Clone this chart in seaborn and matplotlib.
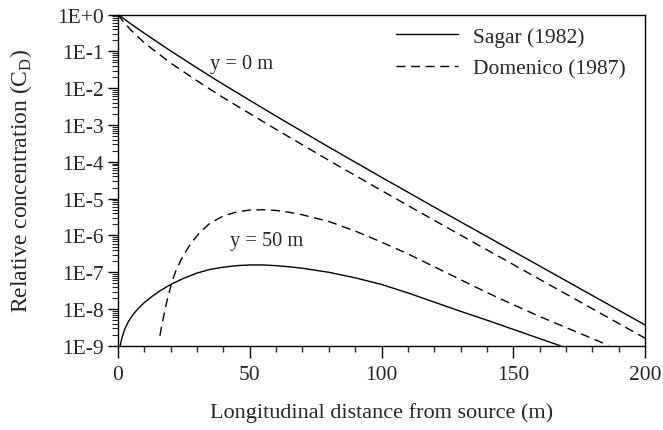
import numpy as np
import pandas as pd
import seaborn as sns
import matplotlib.pyplot as plt
from matplotlib.lines import Line2D
from matplotlib.ticker import LogLocator, FuncFormatter, MultipleLocator, NullFormatter

# values: distance (m) and log10 of relative concentration C_D
sagar_y0_x = [0, 5, 10, 20, 30, 40, 50, 60, 70, 80, 100, 120, 140, 160, 180, 200]
sagar_y0_log = [0, -0.26, -0.51, -0.99, -1.45, -1.90, -2.33, -2.76, -3.18, -3.60,
                -4.42, -5.23, -6.03, -6.83, -7.63, -8.43]

domenico_y0_x = [0, 2, 5, 10, 20, 30, 40, 50, 60, 70, 80, 100, 120, 140, 160, 180, 200]
domenico_y0_log = [0, -0.20, -0.43, -0.77, -1.32, -1.80, -2.26, -2.69, -3.12, -3.54, -3.96,
                   -4.78, -5.59, -6.39, -7.19, -7.99, -8.79]

sagar_y50_x = [0.8, 1.5, 2.5, 4, 6, 8, 10, 13, 16, 20, 25, 30, 35, 40, 45, 50, 55, 60, 65, 70,
               80, 90, 100, 110, 120, 130, 140, 150, 160, 168]
sagar_y50_log = [-9.0, -8.78, -8.55, -8.33, -8.12, -7.96, -7.82, -7.65, -7.50, -7.33, -7.16, -7.02,
                 -6.92, -6.86, -6.82, -6.80, -6.80, -6.82, -6.85, -6.89, -7.00, -7.15, -7.33, -7.56,
                 -7.81, -8.06, -8.30, -8.55, -8.80, -9.0]

domenico_y50_x = [15.9, 17, 18.5, 20.4, 22, 24, 26, 28, 31, 35, 40, 45, 50, 55, 60, 65, 70, 80,
                  90, 100, 110, 120, 130, 140, 150, 160, 170, 180, 186]
domenico_y50_log = [-8.72, -8.30, -7.80, -7.27, -6.95, -6.65, -6.40, -6.18, -5.92, -5.66, -5.47,
                    -5.36, -5.31, -5.30, -5.32, -5.37, -5.44, -5.62, -5.88, -6.18, -6.50, -6.85,
                    -7.20, -7.55, -7.88, -8.20, -8.50, -8.80, -8.98]

models = ["Sagar (1982)", "Domenico (1987)"]


def make_frame():
    parts = []
    for model, offset, xs, logs in [
        (models[0], "y0", sagar_y0_x, sagar_y0_log),
        (models[1], "y0", domenico_y0_x, domenico_y0_log),
        (models[0], "y50", sagar_y50_x, sagar_y50_log),
        (models[1], "y50", domenico_y50_x, domenico_y50_log),
    ]:
        parts.append(pd.DataFrame({"x": xs, "c": 10.0 ** np.array(logs),
                                   "model": model, "curve": model + offset}))
    return pd.concat(parts, ignore_index=True)


sns.set_style("ticks")
plt.rcParams["font.family"] = ["Liberation Serif", "DejaVu Serif"]
plt.rcParams["mathtext.fontset"] = "custom"
plt.rcParams["mathtext.rm"] = "Liberation Serif"

df = make_frame()
dash = (6.5, 4)
dash_styles = {models[0]: "", models[1]: dash}

fig = plt.figure(figsize=(6.63, 4.31), dpi=100)
ax = fig.add_axes([0.178, 0.195, 0.795, 0.769])

sns.lineplot(data=df, x="x", y="c", style="model", units="curve", estimator=None,
             dashes=dash_styles, color="black", linewidth=1.0, legend=False, ax=ax)

ax.set_yscale("log")
ax.set_xlim(0, 200)
ax.set_ylim(1e-9, 1)

ax.xaxis.set_major_locator(MultipleLocator(50))
ax.xaxis.set_minor_locator(MultipleLocator(10))
ax.yaxis.set_major_locator(LogLocator(base=10, numticks=20))
ax.yaxis.set_minor_locator(LogLocator(base=10, subs=np.arange(2, 10), numticks=20))
ax.yaxis.set_minor_formatter(NullFormatter())
ax.yaxis.set_major_formatter(FuncFormatter(lambda v, p: "1E+0" if v >= 1 else "1E-%d" % round(-np.log10(v))))

ax.tick_params(axis="both", which="major", direction="out", length=7, width=1, labelsize=15.5, color="black")
ax.tick_params(axis="x", which="minor", direction="out", length=4, width=1)
ax.tick_params(axis="y", which="minor", direction="out", length=4, width=0.8)
ax.tick_params(axis="x", which="major", length=8.5, pad=5)
for side in ax.spines.values():
    side.set_linewidth(1)
    side.set_color("black")

ax.set_xlabel("Longitudinal distance from source (m)", fontsize=16, labelpad=13)
ax.set_ylabel("Relative concentration (C$_\\mathrm{D}$)", fontsize=17, labelpad=16)

ax.text(47, 10 ** -1.34, "y = 0 m", fontsize=14.7, ha="center", va="center")
ax.text(56.4, 10 ** -6.15, "y = 50 m", fontsize=14.7, ha="center", va="center")

handles = [Line2D([], [], color="black", lw=1.0, label=models[0]),
           Line2D([], [], color="black", lw=1.0, dashes=dash, label=models[1])]
ax.legend(handles=handles, loc="upper right", bbox_to_anchor=(0.983, 0.995), frameon=False,
          fontsize=15.5, handlelength=2.85, handletextpad=0.7, borderaxespad=0.1, labelspacing=0.55)

fig.savefig("out.png", dpi=100)
